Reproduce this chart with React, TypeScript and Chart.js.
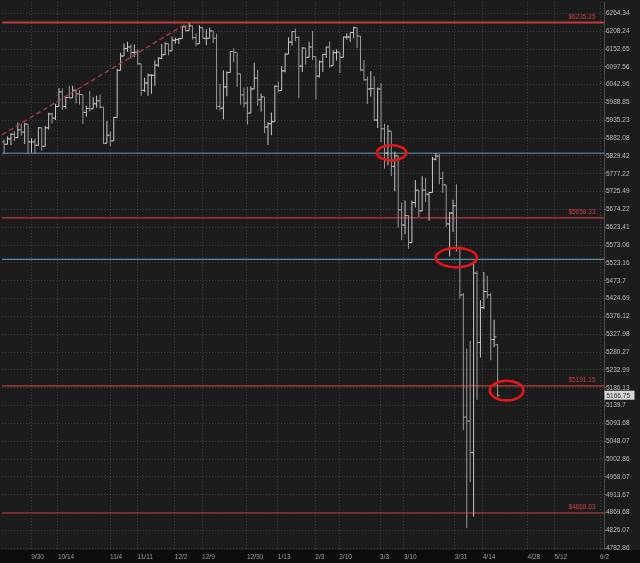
import React, { useEffect, useRef } from 'react';
import { Chart, registerables } from 'chart.js';

Chart.register(...registerables);

// ---- trading days (categories) ----
const dates = [
  '9/20','9/23','9/24','9/25','9/26','9/27','9/30',
  '10/1','10/2','10/3','10/4','10/7','10/8','10/9','10/10','10/11','10/14','10/15','10/16','10/17','10/18','10/21','10/22','10/23','10/24','10/25','10/28','10/29','10/30','10/31',
  '11/1','11/4','11/5','11/6','11/7','11/8','11/11','11/12','11/13','11/14','11/15','11/18','11/19','11/20','11/21','11/22','11/25','11/26','11/27','11/29',
  '12/2','12/3','12/4','12/5','12/6','12/9','12/10','12/11','12/12','12/13','12/16','12/17','12/18','12/19','12/20','12/23','12/24','12/26','12/27','12/30','12/31',
  '1/2','1/3','1/6','1/7','1/8','1/10','1/13','1/14','1/15','1/16','1/17','1/21','1/22','1/23','1/24','1/27','1/28','1/29','1/30','1/31',
  '2/3','2/4','2/5','2/6','2/7','2/10','2/11','2/12','2/13','2/14','2/18','2/19','2/20','2/21','2/24','2/25','2/26','2/27','2/28',
  '3/3','3/4','3/5','3/6','3/7','3/10','3/11','3/12','3/13','3/14','3/17','3/18','3/19','3/20','3/21','3/24','3/25','3/26','3/27','3/28','3/31',
  '4/1','4/2','4/3','4/4','4/7','4/8','4/9','4/10','4/11','4/14','4/15','4/16','4/17','4/21',
];

// ---- OHLC series ----
const opens = [
  5871,5864,5880,5894,5884,5907,5900,
  5924,5871,5871,5861,5913,5858,5913,5954,5942,5977,6021,5977,6004,6003,6026,6015,6013,5959,5971,5970,5985,5994,5975,
  5867,5891,5874,5944,6087,6131,6154,6159,6142,6143,6107,6026,6048,6072,6072,6103,6124,6135,6169,6147,
  6180,6182,6185,6222,6210,6225,6188,6169,6219,6186,6186,6209,6186,5977,5972,6036,6080,6145,6142,6076,6012,
  5987,5957,6030,6063,5997,6006,5915,5925,5931,6038,6025,6085,6137,6174,6207,6189,6100,6156,6127,6159,
  6129,6069,6113,6136,6159,6101,6141,6143,6127,6190,6190,6204,6219,6193,6088,6058,6030,6031,5936,
  6030,5910,5838,5903,5799,5830,5673,5630,5657,5580,5694,5730,5670,5730,5718,5723,5820,5829,5764,5745,5633,
  5664,5685,5565,5435,5110,5100,5020,5495,5306,5400,5444,5435,5314,5300,
];
const highs = [
  5878,5887,5897,5903,5929,5926,5927,
  5924,5882,5880,5915,5913,5919,5958,5958,5985,6033,6032,6008,6040,6040,6028,6026,6013,5979,6024,6005,6009,6013,5975,
  5934,5903,5946,6091,6141,6170,6175,6167,6167,6151,6107,6064,6077,6075,6118,6128,6168,6174,6169,6192,
  6188,6188,6225,6228,6235,6225,6201,6227,6219,6214,6220,6209,6200,6045,6087,6083,6145,6155,6142,6076,6034,
  6037,6038,6110,6089,6016,6006,5930,5959,6041,6053,6100,6139,6189,6207,6216,6192,6158,6156,6175,6209,
  6129,6117,6137,6159,6176,6149,6151,6143,6191,6202,6204,6222,6219,6193,6119,6068,6084,6069,6034,
  6047,5925,5921,5903,5843,5830,5694,5700,5657,5700,5759,5730,5770,5766,5725,5827,5838,5835,5784,5745,5667,
  5702,5747,5570,5440,5290,5310,5520,5500,5420,5498,5488,5440,5367,5302,
];
const lows = [
  5836,5864,5861,5874,5883,5889,5865,
  5837,5840,5836,5861,5845,5858,5907,5926,5936,5977,5966,5971,6002,6003,5986,5983,5924,5946,5962,5970,5973,5971,5865,
  5867,5859,5874,5944,6087,6131,6144,6123,6127,6104,6009,6021,6009,6015,6040,6097,6121,6134,6133,6147,
  6170,6168,6185,6207,6210,6182,6161,6169,6186,6164,6186,6171,5968,5965,5938,6008,6080,6112,6037,5983,5974,
  5923,5957,6030,5979,5962,5897,5862,5891,5931,6020,6025,6081,6137,6163,6177,6002,6082,6105,6127,6119,
  5998,6065,6082,6125,6095,6101,6117,6079,6126,6182,6175,6186,6155,6084,6055,5984,6007,5933,5912,
  5870,5793,5802,5771,5727,5622,5587,5604,5563,5580,5681,5653,5670,5696,5643,5723,5817,5747,5722,5624,5541,
  5610,5555,5425,5076,4832,4945,4860,5155,5266,5396,5425,5259,5293,5163,
];
const closes = [
  5864,5880,5894,5884,5907,5900,5924,
  5871,5871,5861,5913,5858,5913,5954,5942,5977,6021,5977,6004,6003,6026,6015,6013,5959,5971,5970,5985,5994,5975,5867,
  5891,5874,5944,6087,6131,6154,6159,6142,6143,6107,6026,6048,6072,6072,6103,6124,6135,6169,6147,6180,
  6182,6185,6222,6210,6225,6188,6169,6219,6186,6186,6209,6186,5977,5972,6036,6080,6145,6142,6076,6012,5987,
  5957,6030,6063,5997,6006,5915,5925,5931,6038,6025,6085,6137,6174,6207,6189,6100,6156,6127,6159,6129,
  6069,6113,6136,6159,6101,6141,6143,6127,6190,6190,6204,6219,6193,6088,6058,6030,6031,5936,6030,
  5910,5838,5903,5799,5830,5673,5630,5657,5580,5694,5730,5670,5730,5718,5723,5820,5829,5764,5745,5633,5664,
  5685,5565,5435,5110,5100,5020,5495,5306,5400,5444,5435,5314,5321,5166.75,
];

// ---- horizontal levels / drawings ----
const redLevels = [6235.25, 5650.33, 5191.15, 4868.63];
const blueLevels = [5837.6, 5533.4];
const trendStart = { x: -0.6, y: 5892 };
const trendEnd = { x: 53.2, y: 6232 };
const circleCenters = [
  { x: 113.05, y: 5838.7 },
  { x: 131.96, y: 5538.2 },
  { x: 146.64, y: 5178.8 },
];

// ---- axes ----
const xTickPos = [7.94, 15.7, 30.91, 38.96, 49.81, 57.78, 70.86, 79.88, 90.81, 97.79, 109.71, 116.69, 131.52, 139.66, 152.75, 160.6, 173.89];
const xTickLabels = ['9/30','10/14','11/4','11/11','12/2','12/9','12/30','1/13','2/3','2/10','3/3','3/10','3/31','4/14','4/28','5/12','6/2'];
const yTicks = [
  6264.34, 6208.24, 6152.65, 6097.56, 6042.96, 5988.85, 5935.23, 5882.08, 5829.42, 5777.22, 5725.49,
  5674.22, 5623.41, 5573.06, 5523.16, 5473.7, 5424.69, 5376.12, 5327.98, 5280.27, 5232.99, 5186.13,
  5139.7, 5093.68, 5048.07, 5002.86, 4958.07, 4913.67, 4869.68, 4826.07, 4782.86,
];
const X_MIN = -0.58;
const X_MAX = 175.05;
const Y_MIN = 4778.7;
const Y_MAX = 6300;

const FAMILY = "'Liberation Sans', Arial, sans-serif";
const BG = '#1c1c1c';
const STRIP = '#0d0d0d';
const GRID = 'rgba(255,255,255,0.17)';
const UP = '#c6c6c6';
const DOWN = '#9a9a9a';

const circleRadii = [
  { rx: 14.7, ry: 7.6 },
  { rx: 20.6, ry: 9.6 },
  { rx: 16.8, ry: 9.8 },
];

export default function App() {
  const ref = useRef<HTMLCanvasElement>(null);

  useEffect(() => {
    document.body.style.margin = '0';
    document.body.style.background = BG;
    const canvas = ref.current;
    if (!canvas) return;

    const idx = closes.map((_, i) => i);
    const colorAt = (i: number) => (closes[i] >= opens[i] ? UP : DOWN);
    const tickShift = 0.32;

    const levelSets: any[] = [
      ...redLevels.map((v, k) => ({
        type: 'line',
        data: [{ x: X_MIN, y: v }, { x: X_MAX, y: v }],
        borderColor: '#c23a3a',
        borderWidth: k === 0 ? 2 : 1.1,
        pointRadius: 0,
        order: 3,
      })),
      ...blueLevels.map((v, k) => ({
        type: 'line',
        data: [{ x: X_MIN, y: v }, { x: X_MAX, y: v }],
        borderColor: k === 0 ? '#4d6f80' : '#5b8db0',
        borderWidth: k === 0 ? 1.6 : 1.2,
        pointRadius: 0,
        order: 3,
      })),
    ];

    const datasets: any[] = [
      ...levelSets,
      {
        type: 'line',
        data: [trendStart, trendEnd],
        borderColor: '#b53a3a',
        borderWidth: 1.3,
        borderDash: [5, 3],
        pointRadius: 0,
        order: 0,
      },
      {
        type: 'bar',
        data: idx.map((i) => ({ x: i, y: [lows[i], highs[i]] })),
        backgroundColor: (c: any) => colorAt(c.dataIndex),
        borderWidth: 0,
        barThickness: 1,
        inflateAmount: 0,
        order: 1,
      },
      {
        type: 'scatter',
        data: idx.map((i) => ({ x: i - tickShift, y: opens[i] })),
        pointStyle: 'line',
        pointRadius: 1.1,
        pointHoverRadius: 1.1,
        pointBorderWidth: 1,
        pointBorderColor: (c: any) => colorAt(c.dataIndex),
        order: 1,
      },
      {
        type: 'scatter',
        data: idx.map((i) => ({ x: i + tickShift, y: closes[i] })),
        pointStyle: 'line',
        pointRadius: 1.1,
        pointHoverRadius: 1.1,
        pointBorderWidth: 1,
        pointBorderColor: (c: any) => colorAt(c.dataIndex),
        order: 1,
      },
    ];

    const drawings = {
      id: 'drawings',
      beforeDraw(chart: any) {
        const { ctx, width, height } = chart;
        ctx.save();
        ctx.fillStyle = BG;
        ctx.fillRect(0, 0, width, height);
        ctx.restore();
      },
      afterDatasetsDraw(chart: any) {
        const { ctx, chartArea, scales } = chart;
        const xs = scales.x;
        const ys = scales.y;
        ctx.save();
        // level labels
        ctx.font = `6.5px ${FAMILY}`;
        ctx.fillStyle = '#d23c3c';
        ctx.textAlign = 'right';
        ctx.textBaseline = 'alphabetic';
        redLevels.forEach((v) => {
          ctx.fillText('$' + v.toFixed(2), chartArea.right - 8.5, ys.getPixelForValue(v) - 3.6);
        });
        // circles
        ctx.strokeStyle = '#e3161b';
        ctx.lineWidth = 2.6;
        circleCenters.forEach((c, k) => {
          ctx.beginPath();
          ctx.ellipse(xs.getPixelForValue(c.x), ys.getPixelForValue(c.y), circleRadii[k].rx, circleRadii[k].ry, 0, 0, Math.PI * 2);
          ctx.stroke();
        });
        // bottom time-axis strip
        ctx.fillStyle = STRIP;
        ctx.fillRect(0, chartArea.bottom, chart.width, chart.height - chartArea.bottom);
        ctx.restore();
      },
      afterDraw(chart: any) {
        const { ctx, chartArea, scales } = chart;
        const last = closes[closes.length - 1];
        const yy = scales.y.getPixelForValue(last);
        ctx.save();
        ctx.fillStyle = '#d6d6d6';
        ctx.fillRect(chartArea.right + 0.5, yy - 4.5, 30, 9);
        ctx.fillStyle = '#2b2b2b';
        ctx.font = `6.5px ${FAMILY}`;
        ctx.textAlign = 'left';
        ctx.textBaseline = 'middle';
        ctx.fillText(last.toFixed(2), chartArea.right + 2.5, yy + 0.5);
        ctx.restore();
      },
    };

    const chart = new Chart(canvas, {
      type: 'line',
      data: { datasets },
      options: {
        animation: false,
        responsive: false,
        events: [],
        layout: { padding: 0 },
        plugins: { legend: { display: false }, tooltip: { enabled: false } },
        scales: {
          x: {
            type: 'linear',
            position: 'bottom',
            min: X_MIN,
            max: X_MAX,
            bounds: 'data',
            offset: false,
            afterFit: (s: any) => {
              s.height = 13;
              s.paddingLeft = 0;
              s.paddingRight = 0;
            },
            afterBuildTicks: (s: any) => {
              s.ticks = xTickPos.map((v) => ({ value: v }));
            },
            ticks: {
              autoSkip: false,
              maxRotation: 0,
              minRotation: 0,
              align: 'start',
              padding: 3,
              color: '#9c9c9c',
              font: { family: FAMILY, size: 6.5 },
              z: 1,
              callback: (_v: any, i: number) => xTickLabels[i],
            },
            grid: { color: GRID, lineWidth: 1, drawTicks: false, offset: false },
            border: { display: false, dash: [1, 2] },
          },
          y: {
            type: 'logarithmic',
            position: 'right',
            min: Y_MIN,
            max: Y_MAX,
            bounds: 'data',
            afterFit: (s: any) => {
              s.width = 36;
              s.paddingTop = 0;
              s.paddingBottom = 0;
            },
            afterBuildTicks: (s: any) => {
              s.ticks = yTicks.map((v) => ({ value: v }));
            },
            ticks: {
              autoSkip: false,
              padding: 0,
              color: '#bcbcbc',
              font: { family: FAMILY, size: 6.5 },
              callback: (v: any) => String(v),
            },
            grid: { color: GRID, lineWidth: 1, drawTicks: true, tickLength: 2, tickColor: '#6a6a6a', tickBorderDash: [] },
            border: { display: true, color: '#4a4a4a', width: 1, dash: [1, 2] },
          },
        },
      } as any,
      plugins: [drawings],
    } as any);

    return () => chart.destroy();
  }, []);

  return (
    <div style={{ position: 'absolute', left: 0, top: 0, width: 640, height: 563 }}>
      <canvas ref={ref} width={640} height={563} style={{ display: 'block' }} />
    </div>
  );
}
